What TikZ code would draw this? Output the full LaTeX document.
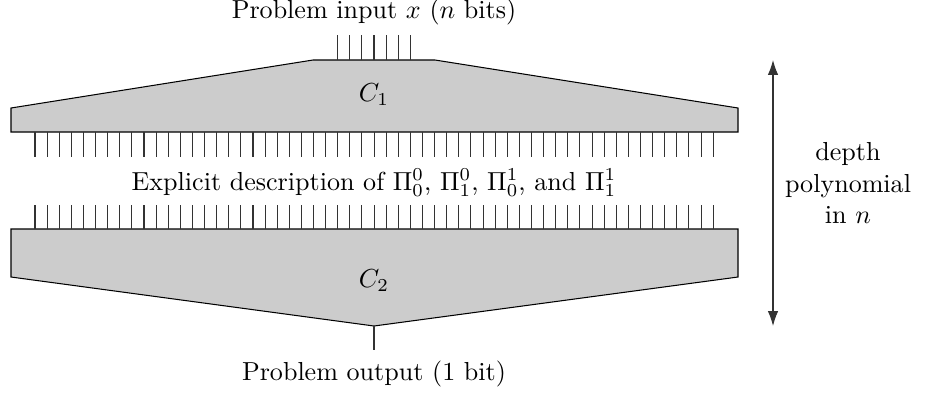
\documentclass[tikz,border=0pt]{standalone}
\usepackage{amsmath,amssymb}
\usepackage{xcolor}
\usepackage{tikz}
\usetikzlibrary{arrows.meta,positioning,calc}
\definecolor{circfill}{HTML}{CCCCCC}
\definecolor{ink}{HTML}{000000}

\begin{document}
\begin{tikzpicture}[
  x=0.013484cm, y=-0.013484cm,
  circuit/.style={draw=ink, fill=circfill, line join=miter},
  wire/.style={draw=ink!80},
  label/.style={align=center, inner sep=0pt},
  arrow/.style={{Latex[length=2mm,width=1.4mm]}-{Latex[length=2mm,width=1.4mm]}, draw=ink!80}
]
\useasboundingbox (0,0) rectangle (927,398);

% circuits
\draw[circuit] (11,132) -- (11,108) -- (313,60) -- (435,60) -- (738,108) -- (738,132) -- cycle;
\draw[circuit] (11,229) -- (738,229) -- (738,277) -- (374,326) -- (11,277) -- cycle;
\node[label] (c1) at (374,95) {$C_1$};
\node[label] (c2) at (374,281) {$C_2$};

% wires
\foreach \i in {0,...,6}
  \draw[wire] ({337.7+12.1*\i},35) -- ({337.7+12.1*\i},60);
\foreach \i in {0,...,56} {
  \draw[wire] ({35+12.11*\i},132) -- ({35+12.11*\i},157);
  \draw[wire] ({35+12.11*\i},205) -- ({35+12.11*\i},229);
}
\draw[wire] (374,326) -- (374,350);

% labels
\node[label] (input) at (374,12) {Problem input $x$ ($n$ bits)};
\node[label] (expl) at (374,183) {Explicit description of $\Pi_0^0$, $\Pi_1^0$, $\Pi_0^1$, and $\Pi_1^1$};
\node[label] (output) at (374,374) {Problem output (1 bit)};
\node[label] (depth) at (848,183) {depth\\polynomial\\in $n$};

% depth arrow
\coordinate (dtop) at (773,60);
\coordinate (dbot) at (773,326);
\draw[arrow] (dtop) -- (dbot);
\end{tikzpicture}
\end{document}
